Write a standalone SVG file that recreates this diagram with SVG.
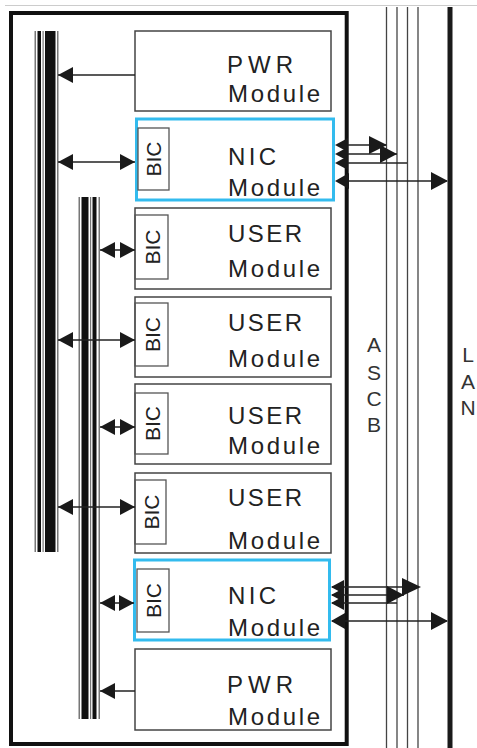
<svg xmlns="http://www.w3.org/2000/svg" width="477" height="748" viewBox="0 0 477 748">
<style>
.mod{fill:#fff;stroke:#444;stroke-width:1.5}
.nic{fill:#fff;stroke:#33bbee;stroke-width:3}
.bic{fill:none;stroke:#555;stroke-width:1.3}
.t{font-family:"Liberation Sans",Arial,sans-serif;font-size:24px;fill:#222}
.b{font-family:"Liberation Sans",Arial,sans-serif;font-size:21px;fill:#222;text-anchor:middle}
.lbl{font-family:"Liberation Sans",Arial,sans-serif;font-size:21px;fill:#333;text-anchor:middle}
.c{stroke:#222;stroke-width:1.5;fill:none}
.bus{stroke:#444;stroke-width:1.3}
.h{fill:#1a1a1a}
</style>
<defs>
<marker id="ah" markerUnits="userSpaceOnUse" markerWidth="16" markerHeight="17" refX="15" refY="8" orient="auto-start-reverse" viewBox="0 0 16 17">
<path d="M0,0 L15,8 L0,16 z" fill="#1a1a1a"/>
</marker>
</defs>
<rect width="477" height="748" fill="#fff"/>
<line x1="5" y1="5.5" x2="477" y2="5.5" stroke="#ccc" stroke-width="1"/>

<!-- ASCB and LAN lines -->
<g id="ascb">
<line class="bus" x1="386.5" y1="7" x2="386.5" y2="748"/>
<line class="bus" x1="397" y1="7" x2="397" y2="748"/>
<line class="bus" x1="407.5" y1="7" x2="407.5" y2="748"/>
<line class="bus" x1="418" y1="7" x2="418" y2="748"/>
<text class="lbl" x="374" y="352">A</text>
<text class="lbl" x="374" y="380">S</text>
<text class="lbl" x="374" y="406">C</text>
<text class="lbl" x="374" y="432">B</text>
</g>
<g id="lan">
<rect x="447.5" y="7" width="5" height="741" fill="#1a1a1a"/>
<text class="lbl" x="468" y="362">L</text>
<text class="lbl" x="468" y="389">A</text>
<text class="lbl" x="468" y="415">N</text>
</g>

<!-- outer chassis -->
<rect id="chassis" x="11" y="13" width="335.7" height="731" fill="none" stroke="#111" stroke-width="4"/>

<!-- buses -->
<g id="bus1">
<rect x="34.5" y="31" width="1.5" height="521" fill="#777"/>
<rect x="37.5" y="31" width="3.5" height="521" fill="#111"/>
<rect x="42.5" y="31" width="1.2" height="521" fill="#777"/>
<rect x="45" y="31" width="10.5" height="521" fill="#111"/>
<rect x="57" y="31" width="1.5" height="521" fill="#777"/>
</g>
<g id="bus2">
<rect x="78.5" y="197" width="1.5" height="522" fill="#777"/>
<rect x="81.5" y="197" width="7" height="522" fill="#111"/>
<rect x="90" y="197" width="1.2" height="522" fill="#777"/>
<rect x="92.5" y="197" width="4" height="522" fill="#111"/>
<rect x="98.5" y="197" width="1.5" height="522" fill="#777"/>
</g>

<!-- modules -->
<g id="pwr1">
<rect class="mod" x="135" y="31" width="196" height="80"/>
<text class="t" x="227" y="73" textLength="66" lengthAdjust="spacing">PWR</text>
<text class="t" x="228" y="102" textLength="92" lengthAdjust="spacing">Module</text>
</g>
<g id="nic1">
<rect class="nic" x="136.5" y="119" width="197" height="81"/>
<rect class="bic" x="138" y="128" width="31" height="62"/>
<text class="b" transform="translate(161,159) rotate(-90)">BIC</text>
<text class="t" x="228" y="165" textLength="48" lengthAdjust="spacing">NIC</text>
<text class="t" x="228" y="196" textLength="92" lengthAdjust="spacing">Module</text>
</g>
<g id="user1">
<rect class="mod" x="135" y="208" width="196" height="81"/>
<rect class="bic" x="135" y="215" width="33" height="64"/>
<text class="b" transform="translate(159.5,247) rotate(-90)">BIC</text>
<text class="t" x="228" y="242" textLength="74" lengthAdjust="spacing">USER</text>
<text class="t" x="228" y="277" textLength="92" lengthAdjust="spacing">Module</text>
</g>
<g id="user2">
<rect class="mod" x="135" y="297" width="196" height="80"/>
<rect class="bic" x="135" y="303" width="33" height="63"/>
<text class="b" transform="translate(159.5,334.5) rotate(-90)">BIC</text>
<text class="t" x="228" y="331" textLength="74" lengthAdjust="spacing">USER</text>
<text class="t" x="228" y="367" textLength="92" lengthAdjust="spacing">Module</text>
</g>
<g id="user3">
<rect class="mod" x="135" y="384" width="196" height="80"/>
<rect class="bic" x="135" y="393" width="33" height="61"/>
<text class="b" transform="translate(159.5,423.5) rotate(-90)">BIC</text>
<text class="t" x="228" y="424" textLength="74" lengthAdjust="spacing">USER</text>
<text class="t" x="228" y="454" textLength="92" lengthAdjust="spacing">Module</text>
</g>
<g id="user4">
<rect class="mod" x="135" y="473" width="196" height="80"/>
<rect class="bic" x="135" y="480" width="31" height="64"/>
<text class="b" transform="translate(158.5,512) rotate(-90)">BIC</text>
<text class="t" x="228" y="506" textLength="74" lengthAdjust="spacing">USER</text>
<text class="t" x="228" y="549" textLength="92" lengthAdjust="spacing">Module</text>
</g>
<g id="nic2">
<rect class="nic" x="134.5" y="560" width="195" height="80"/>
<rect class="bic" x="137" y="569" width="32" height="63"/>
<text class="b" transform="translate(160.5,600.5) rotate(-90)">BIC</text>
<text class="t" x="228" y="604" textLength="48" lengthAdjust="spacing">NIC</text>
<text class="t" x="228" y="636" textLength="92" lengthAdjust="spacing">Module</text>
</g>
<g id="pwr2">
<rect class="mod" x="135" y="649" width="196" height="81"/>
<text class="t" x="227" y="693" textLength="66" lengthAdjust="spacing">PWR</text>
<text class="t" x="228" y="725" textLength="92" lengthAdjust="spacing">Module</text>
</g>

<!-- connectors -->
<g id="connectors">
<line class="c" x1="135" y1="75" x2="58" y2="75" marker-end="url(#ah)"/>
<line class="c" x1="58" y1="162" x2="135" y2="162" marker-start="url(#ah)" marker-end="url(#ah)"/>
<line class="c" x1="100" y1="250" x2="135" y2="250" marker-start="url(#ah)" marker-end="url(#ah)"/>
<line class="c" x1="58" y1="340" x2="135" y2="340" marker-start="url(#ah)" marker-end="url(#ah)"/>
<line class="c" x1="100" y1="427" x2="135" y2="427" marker-start="url(#ah)" marker-end="url(#ah)"/>
<line class="c" x1="58" y1="507" x2="135" y2="507" marker-start="url(#ah)" marker-end="url(#ah)"/>
<line class="c" x1="100" y1="603" x2="134" y2="603" marker-start="url(#ah)" marker-end="url(#ah)"/>
<line class="c" x1="135" y1="691" x2="100" y2="691" marker-end="url(#ah)"/>

<!-- top NIC to ASCB / LAN -->
<line class="c" x1="337" y1="145" x2="386" y2="145"/>
<line class="c" x1="337" y1="154" x2="397" y2="154"/>
<line class="c" x1="337" y1="163" x2="407" y2="163"/>
<line class="c" x1="337" y1="181" x2="447" y2="181"/>
<polygon class="h" points="369,136 387,145 369,154"/>
<polygon class="h" points="380,145 397,154 380,163"/>
<polygon class="h" points="431,172 448,181 431,190"/>
<polygon class="h" points="335,145 348,138 348,152"/>
<polygon class="h" points="335,154 348,147 348,161"/>
<polygon class="h" points="335,163 348,156 348,170"/>
<polygon class="h" points="335,181 349,173 349,189"/>

<!-- bottom NIC to ASCB / LAN -->
<line class="c" x1="332" y1="587" x2="419" y2="587"/>
<line class="c" x1="332" y1="595" x2="404" y2="595"/>
<line class="c" x1="332" y1="603" x2="397" y2="603"/>
<line class="c" x1="332" y1="621" x2="447" y2="621"/>
<polygon class="h" points="402,578 421,587 402,596"/>
<polygon class="h" points="387,586 404,595 387,604"/>
<polygon class="h" points="431,612 448,621 431,630"/>
<polygon class="h" points="331,587 344,580 344,594"/>
<polygon class="h" points="331,595 344,588 344,602"/>
<polygon class="h" points="331,603 344,596 344,610"/>
<polygon class="h" points="331,621 345,613 345,629"/>
</g>
</svg>
